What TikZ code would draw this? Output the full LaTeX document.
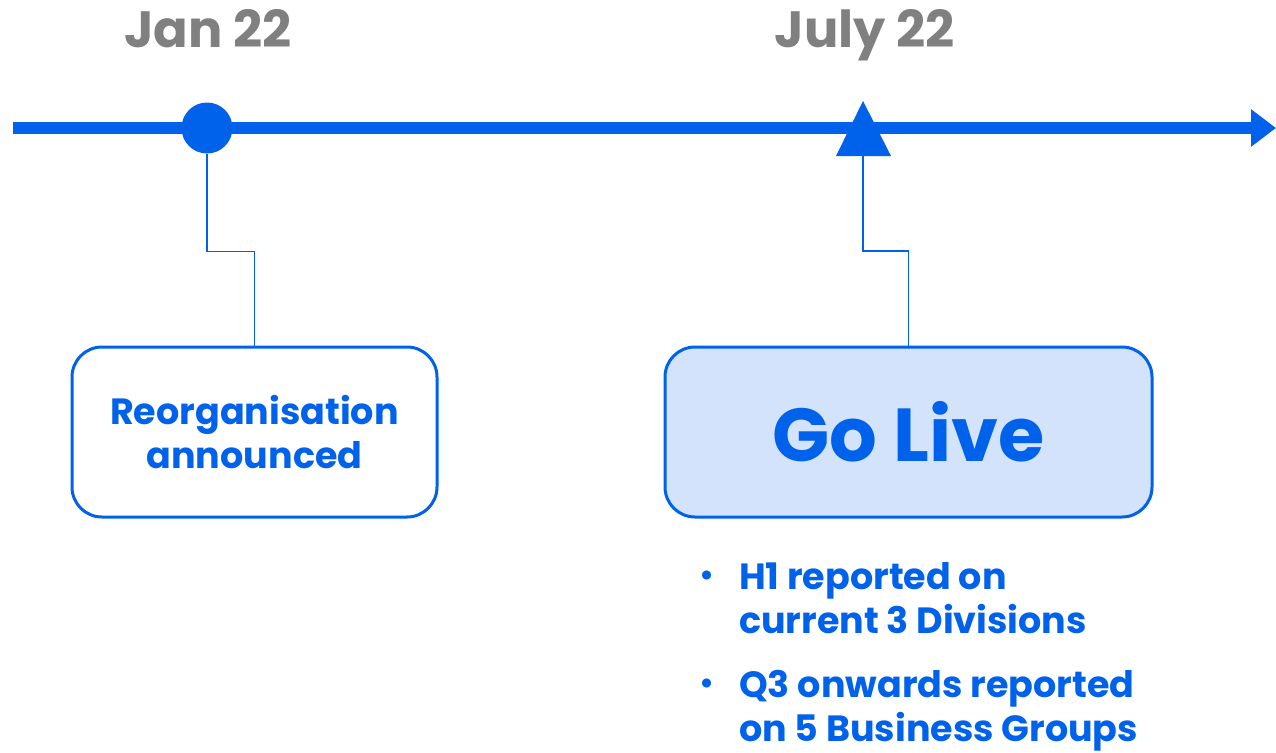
\documentclass[tikz,border=0pt]{standalone}
\usepackage{fontspec}
\setmainfont{Poppins}
\usetikzlibrary{arrows.meta}
\definecolor{tlblue}{RGB}{0,98,235}
\definecolor{datagray}{RGB}{128,128,128}
\definecolor{lightfill}{RGB}{211,227,251}
\tikzset{
  datelabel/.style={text=datagray, font=\fontsize{51}{51}\selectfont\bfseries, anchor=base, inner sep=0},
  eventbox/.style={draw=tlblue, line width=3pt, rounded corners=30pt, minimum width=365pt, minimum height=170pt, align=center, text=tlblue, inner sep=0},
  connector/.style={draw=tlblue, line width=1.3pt},
  bullettext/.style={text=tlblue, font=\fontsize{36.5}{44}\selectfont\bfseries, align=left, anchor=north west, inner sep=0},
  bulletdot/.style={text=tlblue, font=\fontsize{30}{30}\selectfont\bfseries, inner sep=0}
}
\begin{document}
\begin{tikzpicture}[x=1pt,y=-1pt]
\useasboundingbox (0,0) rectangle (1276,752);
% timeline
\coordinate (tlstart) at (13,128);
\coordinate (tlend) at (1276,128);
\draw[tlblue, line width=12pt, -{Triangle[length=25pt,width=36pt]}] (tlstart) -- (tlend);
% markers
\node[circle, fill=tlblue, minimum size=51pt, inner sep=0] (jan) at (207,128) {};
\coordinate (jul) at (863,128);
\coordinate (julbase) at (863,156);
\fill[tlblue] (836,156) -- (863,101) -- (891,156) -- cycle;
% dates
\node[datelabel] (jandate) at (208,48) {Jan 22};
\node[datelabel] (juldate) at (865,48) {July 22};
% boxes
\node[eventbox, fill=white, font=\fontsize{36.5}{44}\selectfont\bfseries] (reorg) at (254.5,432) {Reorganisation\\announced};
\node[eventbox, minimum width=487pt, fill=lightfill, font=\fontsize{75}{75}\selectfont\bfseries] (golive) at (908.5,432) {Go Live};
% connectors
\draw[connector] (jan.south) -- ++(0,98) -| (reorg.north);
\draw[connector] (julbase) -- ++(0,95) -| (golive.north);
% bullets
\node[bulletdot] (b1) at (707,578) {•};
\node[bullettext] (t1) at (739,562) {H1 reported on\\current 3 Divisions};
\node[bulletdot] (b2) at (707,686) {•};
\node[bullettext] (t2) at (739,670) {Q3 onwards reported\\on 5 Business Groups};
\end{tikzpicture}
\end{document}
